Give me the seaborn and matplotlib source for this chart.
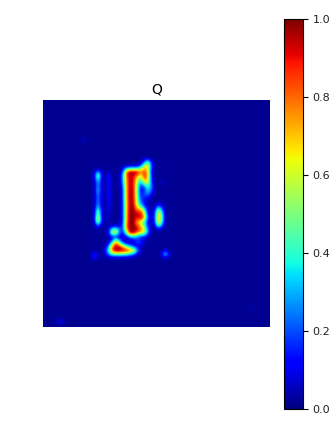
import numpy as np
import pandas as pd
import matplotlib
matplotlib.use("Agg")
import matplotlib.pyplot as plt
import seaborn as sns

GRID = 64
BASE = 0.018
# Percent values; rows 17.. and columns 13.. of the grid
ROW0, COL0 = 17, 13
core_rows = [
#  91  94  98 101 105 109 112 116 119 123 126 130 133 137 141 144 148 151 155 158 162 165 169 172
  [ 2,  2,  2,  2,  2,  2,  2,  2,  2,  2,  2,  2,  2,  2,  4, 14, 42, 12,  2,  2,  2,  2,  2,  2],  # 162
  [ 2,  2,  2,  2,  2,  2,  2,  2,  2,  2,  2,  2,  2,  3, 12, 45, 68, 22,  2,  2,  2,  2,  2,  2],  # 166
  [ 2,  2,  2,  2,  2,  2,  2,  2,  2,  8, 30, 38, 38, 38, 50, 72, 72, 16,  2,  2,  2,  2,  2,  2],  # 169
  [ 2,  4, 34,  6,  2,  7,  2,  2,  2, 18, 80,100,100, 98, 78, 85, 72, 12,  2,  2,  2,  2,  2,  2],  # 173
  [ 2,  6, 58, 10,  2, 14,  3,  2,  2, 28, 82, 96, 92, 80, 58, 88, 78, 14,  2,  2,  2,  2,  2,  2],  # 176
  [ 2,  5, 44,  8,  2, 14,  3,  2,  2, 28, 76, 96, 92, 62, 42, 80, 72, 18,  2,  2,  2,  2,  2,  2],  # 180
  [ 2,  4, 34,  7,  2, 14,  3,  2,  2, 24, 76, 96, 92, 56, 25, 55, 62, 22,  2,  2,  2,  2,  2,  2],  # 183
  [ 2,  4, 30,  7,  2, 14,  3,  2,  2, 20, 74, 96, 92, 52, 15, 22, 45, 28,  2,  2,  2,  2,  2,  2],  # 187
  [ 2,  4, 36,  7,  2, 14,  3,  2,  2, 15, 74, 98, 94, 52, 10, 14, 36, 24,  2,  2,  2,  2,  2,  2],  # 190
  [ 2,  4, 30,  7,  2, 14,  3,  2,  2, 15, 74, 98, 94, 52, 12, 18, 30, 14,  2,  2,  2,  2,  2,  2],  # 194
  [ 2,  4, 28,  7,  2, 14,  3,  2,  2, 15, 74, 98, 94, 52, 15, 18, 14,  6,  2,  2,  2,  2,  2,  2],  # 198
  [ 2,  4, 28,  7,  2, 12,  3,  2,  2, 15, 72, 98, 96, 54, 22, 14,  6,  3,  2,  2,  2,  2,  2,  2],  # 201
  [ 2,  4, 30,  7,  2, 12,  3,  2,  2, 15, 70, 98, 96, 58, 28, 14,  4,  2,  2, 10,  5,  2,  2,  2],  # 205
  [ 2,  4, 40,  8,  2, 12,  2,  2,  2, 15, 70,100, 98, 68, 60, 28,  6,  3,  6, 38, 18,  2,  2,  2],  # 208
  [ 2,  5, 55, 10,  2, 10,  2,  2,  2, 14, 70,100,100, 86, 84, 58, 10,  4, 12, 62, 34,  2,  2,  2],  # 212
  [ 2,  5, 60, 11,  2,  8,  2,  2,  2, 14, 72,100,100, 93, 94, 72, 14,  5, 15, 72, 45,  2,  2,  2],  # 215
  [ 2,  6, 72, 14,  2,  7,  2,  2,  2, 14, 72,100,100, 88, 92, 75, 18,  5, 15, 75, 48,  2,  2,  2],  # 219
  [ 2,  5, 62, 12,  2,  6,  2,  2,  3, 14, 74,100,100, 72, 62, 42, 12,  4, 14, 72, 42,  2,  2,  2],  # 222
  [ 2,  3, 24,  4,  2,  4,  4,  6,  8, 18, 78,100,100, 84, 70, 48, 16,  4,  6, 50, 22,  2,  2,  2],  # 226
  [ 2,  2,  4,  2,  2,  8, 38, 46, 22, 15, 72,100,100, 95, 80, 65, 22,  4,  2, 10,  4,  2,  2,  2],  # 230
  [ 2,  2,  2,  2,  2, 10, 60, 66, 26, 12, 48, 96,100, 80, 68, 62, 28,  4,  2,  2,  2,  2,  2,  2],  # 233
  [ 2,  2,  2,  2,  2,  5, 18, 16,  8,  6, 14, 34, 40, 30, 22, 20,  8,  2,  2,  2,  2,  2,  2,  2],  # 237
  [ 2,  2,  2,  2,  2,  3, 10, 48, 22,  6,  4,  8, 12, 18, 14,  5,  3,  2,  2,  2,  2,  2,  2,  2],  # 240
  [ 2,  2,  2,  2,  2,  8, 45, 85, 60, 24, 10,  6,  5, 16, 18,  6,  2,  2,  2,  2,  2,  2,  2,  2],  # 244
  [ 2,  2,  2,  2,  6, 28, 78, 98, 94, 78, 55, 38, 22, 10,  6,  2,  2,  2,  2,  2,  2,  2,  2,  2],  # 247
  [ 2,  2,  2,  2, 10, 40, 82,100,100, 96, 92, 84, 70, 32,  6,  2,  2,  2,  2,  2,  2, 10,  2,  2],  # 251
  [ 3, 18,  5,  2,  8, 25, 45, 50, 50, 48, 44, 36, 26, 10,  4,  2,  2,  2,  2,  2,  8, 42, 10,  2],  # 254
  [ 3, 16,  5,  2,  3,  4,  6,  6,  6,  6,  5,  4,  3,  2,  2,  2,  2,  2,  2,  2,  3, 10,  3,  2],  # 258
]
spot_rows = [11, 23, 62, 62, 58]
spot_cols = [11, 33,  4,  5, 58]
spot_vals = [8,   9, 12,  9,  6]
tick_vals = [0.0, 0.2, 0.4, 0.6, 0.8, 1.0]
title_text = "Q"

grid = np.full((GRID, GRID), BASE)
core = np.maximum(np.array(core_rows) / 100.0, BASE)
grid[ROW0:ROW0 + core.shape[0], COL0:COL0 + core.shape[1]] = core
for r, c, v in zip(spot_rows, spot_cols, spot_vals):
    grid[r, c] = v / 100.0
df = pd.DataFrame(grid)

sns.set_style("white")
W, H = 336, 423
fig = plt.figure(figsize=(W / 100, H / 100), dpi=100)
ax = fig.add_axes([43 / W, 1 - 327 / H, 227 / W, 227 / H])
cax = fig.add_axes([284 / W, 1 - 409 / H, 19 / W, 390 / H])

sns.heatmap(df, ax=ax, cbar_ax=cax, cmap="jet", vmin=0, vmax=1,
            square=False, xticklabels=False, yticklabels=False)
mesh = ax.collections[0]
mesh.set_visible(False)
ax.imshow(grid, cmap="jet", vmin=0, vmax=1, interpolation="bicubic",
          extent=(0, GRID, GRID, 0), aspect="auto")
ax.set_xlim(0, GRID)
ax.set_ylim(GRID, 0)
ax.set_title(title_text, fontsize=10, pad=4.5, color="black")

cbar = mesh.colorbar
cbar.outline.set_visible(True)
cbar.outline.set_linewidth(0.8)
cbar.outline.set_edgecolor("black")
cbar.set_ticks(tick_vals)
cax.tick_params(labelsize=8, length=3.5, width=0.8, color="black", labelcolor="#222222", right=True)

fig.savefig("out.png", dpi=100)
